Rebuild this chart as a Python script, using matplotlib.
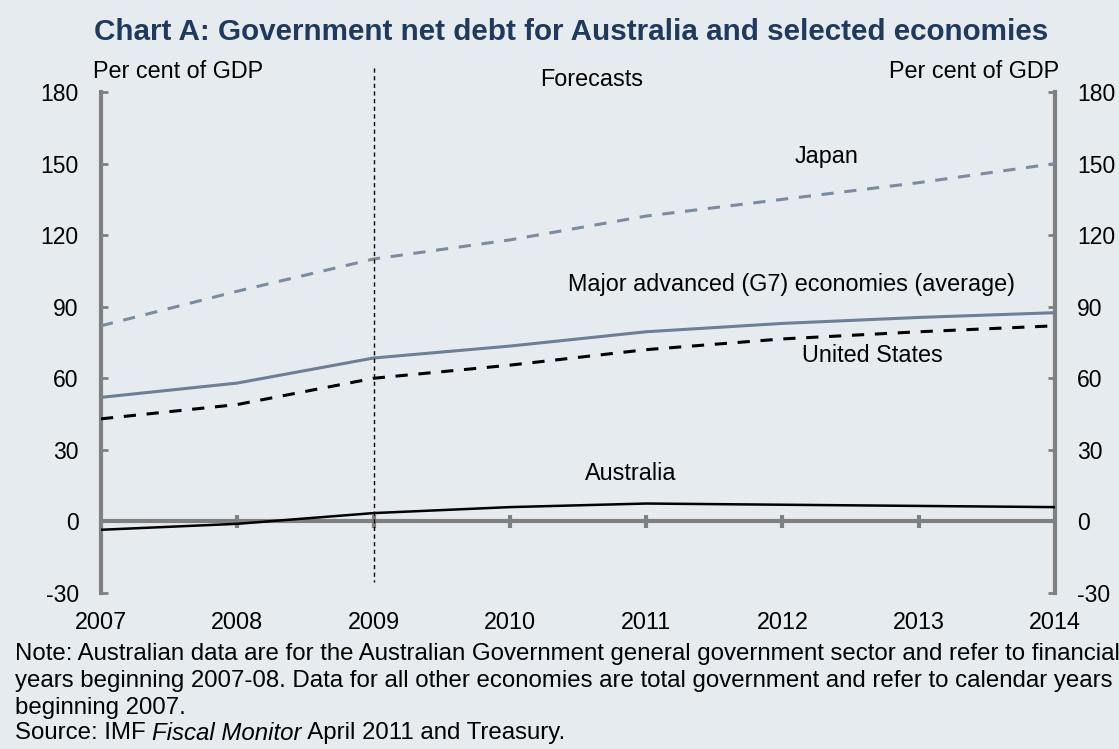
import numpy as np
import matplotlib.pyplot as plt

# donnees
annees = [2007, 2008, 2009, 2010, 2011, 2012, 2013, 2014]
japon = [82, 96.5, 110, 118, 128, 135, 142, 150]
g7 = [52, 58, 68.5, 73.5, 79.5, 83, 85.5, 87.5]
usa = [43, 49, 60, 65.5, 72, 76.5, 79.5, 82]
australie = [-3.5, -1, 3.5, 6, 7.5, 7, 6.5, 6]
yticks = [-30, 0, 30, 60, 90, 120, 150, 180]

fond = '#E6EBF0'
gris = '#808080'
plt.rcParams['font.family'] = ['Liberation Sans', 'DejaVu Sans']
plt.rcParams['axes.unicode_minus'] = False

W, H = 1119, 749
def px(x, y):  # pixels -> coord figure
    return x/W, 1-y/H

fig = plt.figure(figsize=(11.19, 7.49), dpi=100, facecolor=fond)
ax = fig.add_axes([101/W, 1-593/H, 954/W, 501/H])
ax.set_facecolor(fond)
ax.set_xlim(2007, 2014)
ax.set_ylim(-30, 180)

# series
ax.plot(annees, japon, color='#7B8BA0', lw=2.2, dashes=(4, 3.5), zorder=3)
ax.plot(annees, g7, color='#6C7F95', lw=2.2, zorder=3)
ax.plot(annees, usa, color='black', lw=2.2, dashes=(4, 3.5), zorder=3)
ax.plot(annees, australie, color='black', lw=1.8, zorder=3)

# ligne zero + petits traits des annees
ax.axhline(0, color=gris, lw=3, zorder=2)
ax.vlines(annees[1:-1], -2.6, 2.6, color=gris, lw=3, zorder=2)

# separation des previsions
ax.plot([2009, 2009], [190, -25.5], color='black', lw=1, dashes=(3, 2.5), clip_on=False, zorder=4)

# axes
for s in ['top', 'bottom']:
    ax.spines[s].set_visible(False)
for s in ['left', 'right']:
    ax.spines[s].set_color(gris)
    ax.spines[s].set_linewidth(3)
ax.set_yticks(yticks)
ax.tick_params(axis='y', direction='in', length=5, width=2, color=gris, labelsize=16.5,
               pad=16, left=True, right=True, labelleft=True, labelright=True)
ax.set_xticks(annees)
ax.tick_params(axis='x', length=0, labelsize=16.8, pad=13)

# textes
fs = 16.8
fig.text(*px(571, 32), 'Chart A: Government net debt for Australia and selected economies',
         ha='center', va='center', fontsize=21.3, fontweight='bold', color='#1F3A5C')
fig.text(*px(93, 72), 'Per cent of GDP', ha='left', va='center', fontsize=fs)
fig.text(*px(1059, 72), 'Per cent of GDP', ha='right', va='center', fontsize=fs)
fig.text(*px(592, 80), 'Forecasts', ha='center', va='center', fontsize=fs)
fig.text(*px(827, 157), 'Japan', ha='center', va='center', fontsize=fs)
fig.text(*px(568, 285), 'Major advanced (G7) economies (average)', ha='left', va='center', fontsize=fs)
fig.text(*px(872, 356), 'United States', ha='center', va='center', fontsize=fs)
fig.text(*px(631, 473), 'Australia', ha='center', va='center', fontsize=fs)

fn = 17.3
notes = ['Note: Australian data are for the Australian Government general government sector and refer to financial',
         'years beginning 2007-08. Data for all other economies are total government and refer to calendar years',
         'beginning 2007.']
for i, ligne in enumerate(notes):
    fig.text(*px(15, 654+27*i), ligne, ha='left', va='center', fontsize=fn)
t = fig.text(*px(15, 733), 'Source: IMF ', ha='left', va='center', fontsize=fn)
fig.canvas.draw()
r = fig.canvas.get_renderer()
bb = t.get_window_extent(renderer=r)
t2 = fig.text(bb.x1/W, 1-733/H, 'Fiscal Monitor', ha='left', va='center', fontsize=fn, style='italic')
bb2 = t2.get_window_extent(renderer=r)
fig.text(bb2.x1/W, 1-733/H, ' April 2011 and Treasury.', ha='left', va='center', fontsize=fn)

fig.savefig('out.png', dpi=100, facecolor=fond)
